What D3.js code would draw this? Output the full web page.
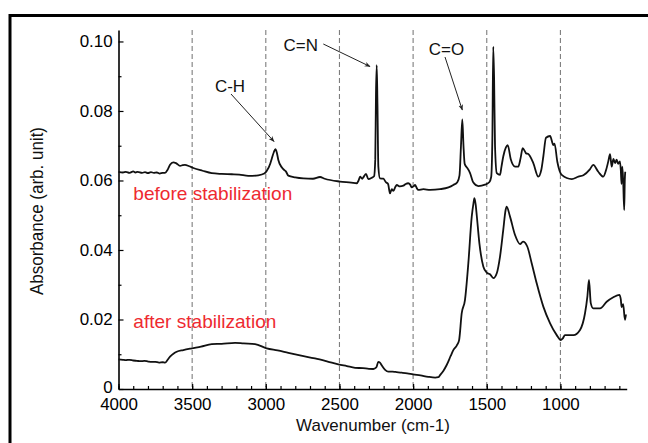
<!DOCTYPE html>
<html>
<head>
<meta charset="utf-8">
<script src="https://cdn.jsdelivr.net/npm/d3@7/dist/d3.min.js"></script>
<style>
	body { margin: 0; background: #fff; }
	svg { display: block; font-family: "Liberation Sans", Arial, sans-serif; }
</style>
</head>
<body>
<div id="chart"></div>
<script>
(function (){
	"use strict";

// spectra (wavenumber cm-1 / absorbance)
var beforeWn = [4000, 3970, 3950, 3925, 3900, 3885, 3870, 3840, 3820, 3800, 3780, 3760, 3740, 3720, 3700, 3684, 3665, 3650, 3628, 3610, 3582, 3565, 3549, 3520, 3492, 3430, 3367, 3300, 3231, 3180, 3119, 3051, 3010, 2994, 2970, 2960, 2945, 2935, 2925, 2915, 2892, 2875, 2865, 2847, 2800, 2745, 2680, 2632, 2600, 2496, 2420, 2383, 2370, 2360, 2345, 2338, 2320, 2304, 2280, 2265, 2257, 2252, 2247, 2242, 2236, 2225, 2202, 2185, 2170, 2157, 2145, 2134, 2120, 2111, 2090, 2066, 2050, 2033, 2020, 2010, 1995, 1987, 1975, 1965, 1930, 1885, 1817, 1760, 1727, 1700, 1685, 1675, 1666, 1658, 1650, 1640, 1632, 1614, 1591, 1557, 1512, 1483, 1470, 1462, 1456, 1450, 1444, 1432, 1410, 1400, 1388, 1370, 1358, 1337, 1308, 1286, 1270, 1256, 1240, 1233, 1218, 1184, 1150, 1130, 1116, 1098, 1070, 1048, 1040, 1021, 991, 923, 878, 844, 800, 777, 743, 709, 690, 675, 663, 652, 640, 629, 618, 608, 596, 590, 585, 580, 574, 567, 563, 560];
var beforeAbs = [0.0625, 0.0623, 0.0625, 0.0622, 0.0626, 0.0623, 0.0625, 0.0622, 0.0624, 0.0621, 0.0624, 0.0622, 0.0623, 0.0620, 0.0622, 0.0622, 0.0632, 0.0645, 0.0652, 0.0650, 0.0642, 0.0644, 0.0645, 0.0641, 0.0636, 0.0628, 0.0621, 0.0619, 0.0618, 0.0617, 0.0613, 0.0615, 0.0620, 0.0627, 0.0648, 0.0662, 0.0682, 0.0690, 0.0680, 0.0659, 0.0638, 0.0630, 0.0627, 0.0614, 0.0609, 0.0606, 0.0605, 0.0610, 0.0605, 0.0597, 0.0594, 0.0592, 0.0600, 0.0611, 0.0605, 0.0609, 0.0619, 0.0604, 0.0608, 0.0612, 0.0660, 0.0850, 0.0932, 0.0820, 0.0640, 0.0606, 0.0605, 0.0595, 0.0590, 0.0563, 0.0575, 0.0570, 0.0582, 0.0587, 0.0583, 0.0585, 0.0590, 0.0592, 0.0588, 0.0580, 0.0584, 0.0587, 0.0578, 0.0573, 0.0575, 0.0573, 0.0575, 0.0580, 0.0587, 0.0595, 0.0615, 0.0700, 0.0776, 0.0700, 0.0648, 0.0640, 0.0636, 0.0622, 0.0594, 0.0584, 0.0588, 0.0595, 0.0610, 0.0720, 0.0985, 0.0890, 0.0700, 0.0621, 0.0616, 0.0640, 0.0669, 0.0695, 0.0702, 0.0661, 0.0640, 0.0640, 0.0665, 0.0693, 0.0683, 0.0678, 0.0676, 0.0650, 0.0611, 0.0630, 0.0669, 0.0723, 0.0728, 0.0702, 0.0706, 0.0654, 0.0616, 0.0604, 0.0611, 0.0615, 0.0632, 0.0645, 0.0625, 0.0611, 0.0630, 0.0655, 0.0676, 0.0640, 0.0662, 0.0650, 0.0660, 0.0648, 0.0655, 0.0630, 0.0590, 0.0640, 0.0600, 0.0515, 0.0600, 0.0625];

var afterWn = [4000, 3970, 3950, 3925, 3900, 3875, 3850, 3825, 3798, 3775, 3750, 3725, 3700, 3684, 3665, 3650, 3625, 3605, 3560, 3503, 3440, 3367, 3300, 3209, 3150, 3073, 2994, 2920, 2847, 2760, 2666, 2580, 2508, 2450, 2394, 2340, 2300, 2270, 2250, 2236, 2225, 2213, 2190, 2168, 2140, 2120, 2077, 2040, 2000, 1950, 1897, 1850, 1829, 1817, 1795, 1772, 1745, 1727, 1704, 1688, 1670, 1648, 1625, 1602, 1590, 1584, 1575, 1568, 1550, 1523, 1500, 1478, 1455, 1432, 1410, 1388, 1372, 1365, 1342, 1308, 1274, 1254, 1225, 1195, 1161, 1116, 1070, 1025, 998, 985, 969, 912, 867, 833, 817, 806, 794, 777, 731, 686, 641, 600, 590, 585, 574, 562, 555];
var afterAbs = [0.00855, 0.0084, 0.0083, 0.0084, 0.0082, 0.0081, 0.0080, 0.0081, 0.0079, 0.0078, 0.0078, 0.0076, 0.0077, 0.00757, 0.0085, 0.0093, 0.0102, 0.0107, 0.0112, 0.0117, 0.0122, 0.0129, 0.0130, 0.0133, 0.0131, 0.0129, 0.0117, 0.0111, 0.0104, 0.0096, 0.0088, 0.0079, 0.0071, 0.0066, 0.0061, 0.0060, 0.0058, 0.00576, 0.0062, 0.0078, 0.0076, 0.0068, 0.0055, 0.0050, 0.0050, 0.0049, 0.0047, 0.0045, 0.0042, 0.0039, 0.0035, 0.0033, 0.0034, 0.0040, 0.0052, 0.0069, 0.0095, 0.0112, 0.0125, 0.0140, 0.0218, 0.0256, 0.0362, 0.0496, 0.0535, 0.0549, 0.0530, 0.0500, 0.0419, 0.0352, 0.0335, 0.0330, 0.0319, 0.0333, 0.0381, 0.0458, 0.0515, 0.0525, 0.0496, 0.0443, 0.0417, 0.0424, 0.0410, 0.0362, 0.0304, 0.0237, 0.0189, 0.0155, 0.0141, 0.0145, 0.0155, 0.0155, 0.0170, 0.0218, 0.0266, 0.0314, 0.0247, 0.0232, 0.0232, 0.0251, 0.0264, 0.0271, 0.0258, 0.0236, 0.0244, 0.0199, 0.0215];

var xMajor = [4000, 3500, 3000, 2500, 2000, 1500, 1000];
var xMinor = d3.range(600, 4001, 100);
var gridLines = [3500, 3000, 2500, 2000, 1500, 1000];
var yMajor = [0, 0.02, 0.04, 0.06, 0.08, 0.10];
var yMinor = [0.01, 0.03, 0.05, 0.07, 0.09];

var seriesNames = ["before stabilization", "after stabilization"];
var peakLabels = ["C-H", "C=N", "C=O"];

var width = 648,
	height = 443,
	sx = 1.06; // text in the picture is a bit wider than tall

var x = d3.scaleLinear().domain([4000, 550]).range([118.5, 626.7]);
var y = d3.scaleLinear().domain([0, 0.1033]).range([389, 30]);

var svg = d3.select("#chart").append("svg")
	.attr("width", width)
	.attr("height", height);

// outer frame
svg.append("rect")
	.attr("x", 10).attr("y", 15.5)
	.attr("width", 800).attr("height", 600)
	.attr("fill", "none")
	.attr("stroke", "#000")
	.attr("stroke-width", 3);

// dashed verticals
svg.append("g").selectAll("line").data(gridLines)
	.enter().append("line")
		.attr("x1", function(d){ return x(d); })
		.attr("x2", function(d){ return x(d); })
		.attr("y1", y.range()[1])
		.attr("y2", y(0))
		.attr("stroke", "#7d7d7d")
		.attr("stroke-width", 1.1)
		.attr("stroke-dasharray", "5,3");

// axes, ticks pointing inward
svg.append("g")
	.attr("transform", "translate(0," + y(0) + ")")
	.call(d3.axisBottom(x).tickValues(xMinor).tickSizeInner(-3).tickSizeOuter(0).tickFormat(""))
	.call(function(g){ g.select(".domain").remove(); });

var xAxis = svg.append("g")
	.attr("transform", "translate(0," + y(0) + ")")
	.call(d3.axisBottom(x).tickValues(xMajor).tickSizeInner(-5).tickSizeOuter(0).tickPadding(10).tickFormat(d3.format("d")));

svg.append("g")
	.attr("transform", "translate(" + x(4000) + ",0)")
	.call(d3.axisLeft(y).tickValues(yMinor).tickSizeInner(-3).tickSizeOuter(0).tickFormat(""))
	.call(function(g){ g.select(".domain").remove(); });

var yAxis = svg.append("g")
	.attr("transform", "translate(" + x(4000) + ",0)")
	.call(d3.axisLeft(y).tickValues(yMajor).tickSizeInner(-5).tickSizeOuter(0).tickPadding(5.5)
		.tickFormat(function(d){ return d === 0 ? "0" : d3.format(".2f")(d); }));

svg.selectAll(".domain").attr("stroke", "#000").attr("stroke-width", 1.6);
svg.selectAll(".tick line").attr("stroke", "#000").attr("stroke-width", 1.2);
svg.selectAll(".tick text")
	.attr("font-size", 16)
	.attr("font-family", "Liberation Sans, Arial, sans-serif")
	.attr("fill", "#000")
	.attr("transform", "scale(" + sx + ",1)");
// the "0" label sits a hair above the corner
yAxis.selectAll(".tick text").filter(function(d){ return d === 0; }).attr("dy", "0.2em");

// spectra
var line = d3.line()
	.curve(d3.curveMonotoneX)
	.x(function(d){ return x(d[0]); })
	.y(function(d){ return y(d[1]); });

var spectra = [d3.zip(beforeWn, beforeAbs), d3.zip(afterWn, afterAbs)];

svg.append("g").selectAll("path").data(spectra)
	.enter().append("path")
		.attr("d", line)
		.attr("fill", "none")
		.attr("stroke", "#111")
		.attr("stroke-width", 1.8)
		.attr("stroke-linejoin", "round");

// series labels
var labelPos = [[133.3, 200], [133.3, 328]];
svg.append("g").selectAll("text").data(seriesNames)
	.enter().append("text")
		.attr("transform", function(d, i){ return "translate(" + labelPos[i][0] + "," + labelPos[i][1] + ") scale(" + sx + ",1)"; })
		.attr("font-size", 18)
		.attr("fill", "#ee2a30")
		.text(function(d){ return d; });

// peak annotations
svg.append("defs").append("marker")
	.attr("id", "arr")
	.attr("viewBox", "0 0 10 10")
	.attr("refX", 9).attr("refY", 5)
	.attr("markerWidth", 6).attr("markerHeight", 6)
	.attr("orient", "auto")
	.append("path")
		.attr("d", "M0,1 L10,5 L0,9 L3,5 Z")
		.attr("fill", "#222");

var peakText = [[230, 91.5], [300.8, 50.5], [446.4, 55]];
var peakArrow = [[231, 94, 274, 141.5], [323.3, 44, 370, 66.5], [445, 57, 462.3, 110]];

var ann = svg.append("g");
ann.selectAll("text").data(peakLabels)
	.enter().append("text")
		.attr("transform", function(d, i){ return "translate(" + peakText[i][0] + "," + peakText[i][1] + ") scale(" + sx + ",1)"; })
		.attr("text-anchor", "middle")
		.attr("font-size", 16)
		.attr("fill", "#111")
		.text(function(d){ return d; });
ann.selectAll("line").data(peakArrow)
	.enter().append("line")
		.attr("x1", function(d){ return d[0]; })
		.attr("y1", function(d){ return d[1]; })
		.attr("x2", function(d){ return d[2]; })
		.attr("y2", function(d){ return d[3]; })
		.attr("stroke", "#222")
		.attr("stroke-width", 1)
		.attr("marker-end", "url(#arr)");

// axis titles
svg.append("text")
	.attr("transform", "translate(" + 373 + ",431) scale(" + sx + ",1)")
	.attr("text-anchor", "middle")
	.attr("font-size", 16)
	.attr("fill", "#111")
	.text("Wavenumber (cm-1)");

svg.append("text")
	.attr("transform", "translate(43,211) scale(" + sx + ",1) rotate(-90)")
	.attr("text-anchor", "middle")
	.attr("font-size", 17)
	.attr("fill", "#111")
	.text("Absorbance (arb. unit)");

})();
</script>
</body>
</html>
